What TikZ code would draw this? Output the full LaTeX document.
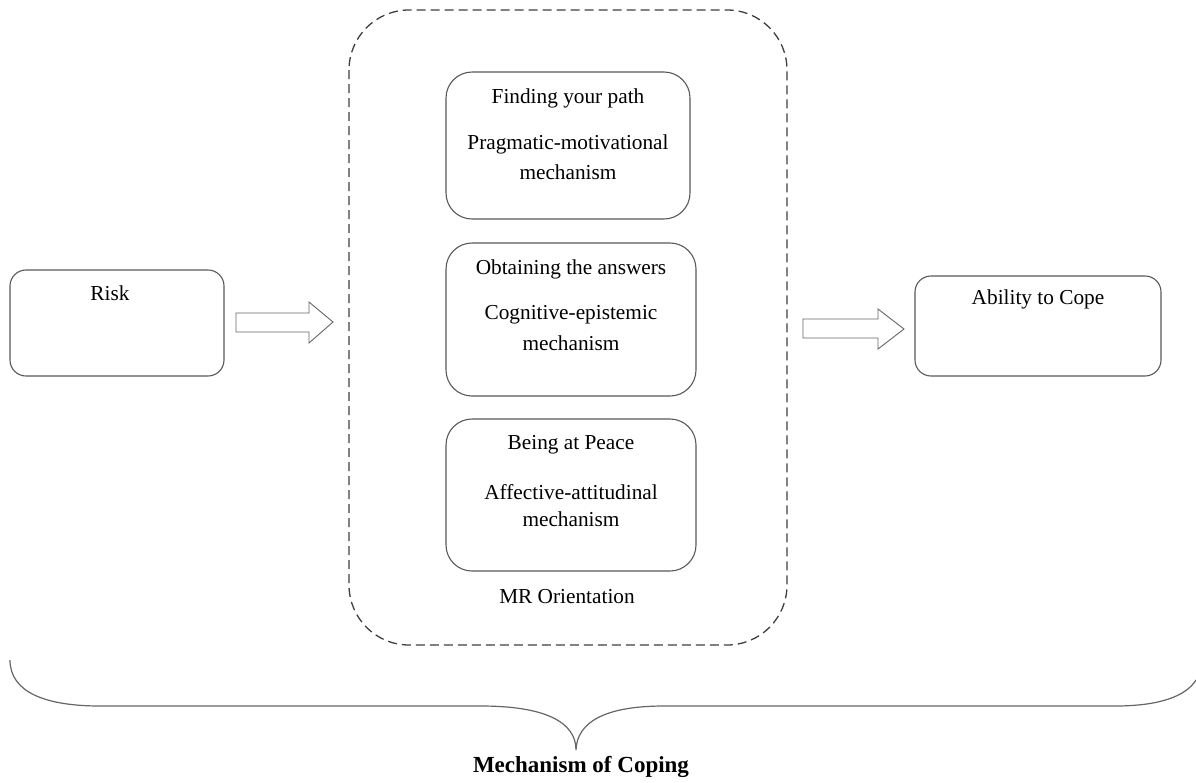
\documentclass[tikz,border=0pt]{standalone}
\usepackage{fontspec}
\setmainfont{Liberation Serif}
\begin{document}
\begin{tikzpicture}[x=1pt,y=-1pt,
  box/.style={draw=black!65,line width=1.1pt,rounded corners=16pt},
  ibox/.style={draw=black!65,line width=1.1pt,rounded corners=26pt},
  outerbox/.style={draw=black!75,line width=1.3pt,dash pattern=on 9pt off 5pt,rounded corners=60pt},
  blockarrow/.style={draw=black!60,line width=0.9pt,fill=white},
  txt/.style={font=\fontsize{21.3}{25}\selectfont,inner sep=0pt,anchor=center},
  brace/.style={draw=black!60,line width=1.2pt}]
\useasboundingbox (0,0) rectangle (1196,782);
\fill[white] (0,0) rectangle (1196,782);
% outer dashed
\draw[outerbox] (349,10) rectangle (787,645);
\node[txt] (mr) at (567,597) {MR Orientation};
% risk
\draw[box] (10,270) rectangle (224,376);
\node[txt] (risk) at (110,293) {Risk};
% ability
\draw[box] (915,276) rectangle (1161,376);
\node[txt] (ability) at (1038,299) {Ability to Cope};
% inner boxes
\draw[ibox] (446,72) rectangle (690,219);
\node[txt] (b1a) at (568,98) {Finding your path};
\node[txt] (b1b) at (568,144) {Pragmatic-motivational};
\node[txt] (b1c) at (568,172) {mechanism};
\draw[ibox] (446,243) rectangle (696,396);
\node[txt] (b2a) at (571,269) {Obtaining the answers};
\node[txt] (b2b) at (571,315) {Cognitive-epistemic};
\node[txt] (b2c) at (571,343) {mechanism};
\draw[ibox] (446,419) rectangle (696,571);
\node[txt] (b3a) at (571,445) {Being at Peace};
\node[txt] (b3b) at (571,492) {Affective-attitudinal};
\node[txt] (b3c) at (571,519) {mechanism};
% block arrows
\draw[blockarrow] (236,313) -- (309,313) -- (309,302) -- (333,322) -- (309,343) -- (309,332) -- (236,332) -- cycle;
\draw[blockarrow] (803,319) -- (878,319) -- (878,309) -- (904,329) -- (878,349) -- (878,338) -- (803,338) -- cycle;
% brace
\coordinate (bl) at (10,660);
\coordinate (tip) at (576,750);
\coordinate (br) at (1196,680);
\draw[brace] (bl) .. controls (10,692) and (45,706) .. (100,706) -- (481,706)
  .. controls (545,706) and (576,722) .. (tip)
  .. controls (577,722) and (605,706) .. (664,706) -- (1115,706)
  .. controls (1160,706) and (1186,696) .. (br);
\node[font=\fontsize{23}{27}\selectfont\bfseries,inner sep=0pt] (moc) at (581,767) {Mechanism of Coping};
\end{tikzpicture}
\end{document}
